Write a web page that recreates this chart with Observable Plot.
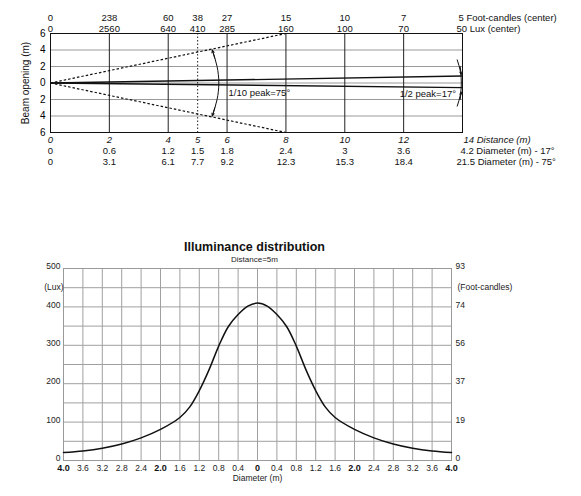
<!DOCTYPE html>
<html><head><meta charset="utf-8">
<script src="https://cdn.jsdelivr.net/npm/d3@7"></script>
<script src="https://cdn.jsdelivr.net/npm/@observablehq/plot@0.6"></script>
<style>body{margin:0;background:#fff;} svg{display:block;}</style>
</head><body><div id="c"></div>
<script>
// ---- Top chart data (beam opening vs distance) ----
const distance = [0, 2, 4, 5, 6, 8, 10, 12, 14];
const footCandles = ["0", "238", "60", "38", "27", "15", "10", "7", "5"];
const luxCenter = ["0", "2560", "640", "410", "285", "160", "100", "70", "50"];
const diam17 = ["0", "0.6", "1.2", "1.5", "1.8", "2.4", "3", "3.6", "4.2"];
const diam75 = ["0", "3.1", "6.1", "7.7", "9.2", "12.3", "15.3", "18.4", "21.5"];
const distLabels = ["0", "2", "4", "5", "6", "8", "10", "12", "14"];
const rowSuffix = {fc: " Foot-candles (center)", lux: " Lux (center)", dist: " Distance (m)", d17: " Diameter (m) - 17°", d75: " Diameter (m) - 75°"};
const beamTicks = [-6, -4, -2, 0, 2, 4, 6];
const solidVerticals = [2, 4, 6, 8, 10, 12];
const dottedVerticals = [5];
const beamGrid = [-4, -2, 0, 2, 4];
// beam edges as drawn: end x, end y
const beam75End = [{x: 8, y: 6}, {x: 8, y: -6}];
const beam17End = [{x: 14, y: 0.85}, {x: 14, y: -0.55}];
const arc75 = [{x: 5.5, y: 4}, {x: 5.66, y: 2}, {x: 5.72, y: 0}, {x: 5.66, y: -2}, {x: 5.5, y: -4}];
const arc75Heads = [{x1: 5.58, y1: 3.0, x2: 5.5, y2: 4.0}, {x1: 5.58, y1: -3.0, x2: 5.5, y2: -4.0}];
const arc17 = [{x: 13.82, y: 2.8}, {x: 13.93, y: 1.4}, {x: 13.96, y: 0}, {x: 13.93, y: -1.4}, {x: 13.82, y: -2.8}];
const arc17Heads = [{x1: 13.92, y1: 2.0, x2: 13.955, y2: 1.05}, {x1: 13.92, y1: -2.0, x2: 13.955, y2: -1.1}];
const noteStart = [{x: 6.05, y: -1.25, text: "1/10 peak=75°"}];
const noteEnd = [{x: 13.78, y: -1.35, text: "1/2 peak=17°"}];

// ---- Bottom chart data (illuminance distribution at 5 m) ----
const diameter = [-4.0, -3.6, -3.2, -2.8, -2.4, -2.0, -1.6, -1.4, -1.2, -1.0, -0.8, -0.6, -0.4, -0.2, 0, 0.2, 0.4, 0.6, 0.8, 1.0, 1.2, 1.4, 1.6, 2.0, 2.4, 2.8, 3.2, 3.6, 4.0];
const illuminance = [21, 25, 32, 43, 59, 81, 112, 139, 182, 236, 298, 349, 380, 402, 410, 402, 380, 349, 298, 236, 182, 139, 112, 81, 59, 43, 32, 25, 21];
const xTickVals = [-4.0, -3.6, -3.2, -2.8, -2.4, -2.0, -1.6, -1.2, -0.8, -0.4, 0, 0.4, 0.8, 1.2, 1.6, 2.0, 2.4, 2.8, 3.2, 3.6, 4.0];
const xBoldTicks = [-4.0, -2.0, 0, 2.0, 4.0];
const luxTicks = [500, 400, 300, 200, 100, 0];
const fcTicks = ["93", "74", "56", "37", "19", "0"];
const yGrid = [0, 50, 100, 150, 200, 250, 300, 350, 400, 450, 500];

const font = "Liberation Sans, Arial, sans-serif";
const idx = distance.map((d, i) => i);
const mid = idx.slice(0, 8);
const last = [8];

function rowMarks(labels, suffix, dy, lastDx, italic) {
  const st = italic ? "italic" : "normal";
  const fa = dy < 0 ? "top" : "bottom";
  return [
    Plot.text(mid, {x: i => distance[i], text: i => labels[i], frameAnchor: fa, dy, fontStyle: st, fill: "#111"}),
    Plot.text(last, {x: i => distance[i], text: i => labels[i] + suffix, frameAnchor: fa, dy, dx: lastDx, textAnchor: "start", fontStyle: st, fill: "#111"})
  ];
}

const beamChart = Plot.plot({
  width: 581, height: 180,
  marginLeft: 50, marginRight: 119, marginTop: 33, marginBottom: 48,
  style: {fontFamily: font, fontSize: "9.5px", background: "white", overflow: "visible"},
  x: {domain: [0, 14], axis: null},
  y: {domain: [-6, 6], axis: null},
  marks: [
    Plot.ruleY(beamGrid, {stroke: "#9a9a9a", strokeWidth: 1.2}),
    Plot.ruleX(solidVerticals, {stroke: "#222", strokeWidth: 1}),
    Plot.ruleX(dottedVerticals, {stroke: "#222", strokeWidth: 1, strokeDasharray: "1.5,2"}),
    Plot.link(beam75End, {x1: () => 0, y1: () => 0, x2: "x", y2: "y", stroke: "#111", strokeWidth: 1.2, strokeDasharray: "2.5,2"}),
    Plot.link(beam17End, {x1: () => 0, y1: () => 0, x2: "x", y2: "y", stroke: "#111", strokeWidth: 1.3}),
    Plot.line(arc75, {x: "x", y: "y", curve: "natural", stroke: "#111", strokeWidth: 1}),
    Plot.arrow(arc75Heads, {x1: "x1", y1: "y1", x2: "x2", y2: "y2", stroke: "#111", strokeWidth: 1, headLength: 6, headAngle: 50}),
    Plot.line(arc17, {x: "x", y: "y", curve: "natural", stroke: "#111", strokeWidth: 1}),
    Plot.arrow(arc17Heads, {x1: "x1", y1: "y1", x2: "x2", y2: "y2", stroke: "#111", strokeWidth: 1, headLength: 5, headAngle: 50}),
    Plot.text(noteStart, {x: "x", y: "y", text: "text", textAnchor: "start", fontSize: 9.5, fill: "#111"}),
    Plot.text(noteEnd, {x: "x", y: "y", text: "text", textAnchor: "end", fontSize: 9.5, fill: "#111"}),
    Plot.frame({stroke: "#111", strokeWidth: 1}),
    Plot.axisY({ticks: beamTicks, tickFormat: d => Math.abs(d), tickSize: 0, tickPadding: 5, label: null, fontSize: 10}),
    Plot.text(["Beam opening (m)"], {frameAnchor: "left", textAnchor: "middle", dx: -25, rotate: -90, fontSize: 10, fill: "#111"}),
    ...rowMarks(footCandles, rowSuffix.fc, -19, -4, false),
    ...rowMarks(luxCenter, rowSuffix.lux, -8, -6, false),
    ...rowMarks(distLabels, rowSuffix.dist, 10, 1, true),
    ...rowMarks(diam17, rowSuffix.d17, 21, -2, false),
    ...rowMarks(diam75, rowSuffix.d75, 32, -6, false)
  ]
});

const fmt = d => d === 0 ? "0" : Math.abs(d).toFixed(1);
const illumChart = Plot.plot({
  width: 581, height: 316,
  marginLeft: 63, marginRight: 130, marginTop: 88, marginBottom: 36,
  style: {fontFamily: font, fontSize: "8.5px", background: "white", overflow: "visible"},
  x: {domain: [-4, 4], axis: null},
  y: {domain: [0, 500], axis: null},
  marks: [
    Plot.ruleX(xTickVals, {stroke: "#a0a0a0", strokeWidth: 1}),
    Plot.ruleY(yGrid, {stroke: "#a0a0a0", strokeWidth: 1}),
    Plot.frame({stroke: "#999"}),
    Plot.line(illuminance.map((v, i) => ({x: diameter[i], y: v})), {x: "x", y: "y", curve: "catmull-rom", stroke: "#111", strokeWidth: 1.5}),
    Plot.text(xTickVals.filter(d => !xBoldTicks.includes(d)), {x: d => d, text: fmt, frameAnchor: "bottom", dy: 10.5, fill: "#222"}),
    Plot.text(xBoldTicks, {x: d => d, text: fmt, frameAnchor: "bottom", dy: 10.5, fontWeight: "bold", fontSize: 9, fill: "#111"}),
    Plot.text(["Diameter (m)"], {frameAnchor: "bottom", dy: 20, fontSize: 8.5, fill: "#222"}),
    Plot.text(luxTicks, {y: d => d, text: d => String(d), frameAnchor: "left", textAnchor: "end", dx: -3, dy: -2, fill: "#222"}),
    Plot.text(["(Lux)"], {y: () => 450, frameAnchor: "left", textAnchor: "end", dx: 0, fill: "#222"}),
    Plot.text(luxTicks, {y: d => d, text: (d, i) => fcTicks[i], frameAnchor: "right", textAnchor: "start", dx: 4, dy: -2, fill: "#222"}),
    Plot.text(["(Foot-candles)"], {y: () => 450, frameAnchor: "right", textAnchor: "start", dx: 6, fill: "#222"}),
    Plot.text(["Illuminance distribution"], {frameAnchor: "top", dy: -26, dx: -3, fontWeight: "bold", fontSize: 12.5, fill: "#111"}),
    Plot.text(["Distance=5m"], {frameAnchor: "top", dy: -12.5, dx: -3, fontSize: 8, fill: "#222"})
  ]
});

document.getElementById("c").append(beamChart, illumChart);
</script></body></html>
